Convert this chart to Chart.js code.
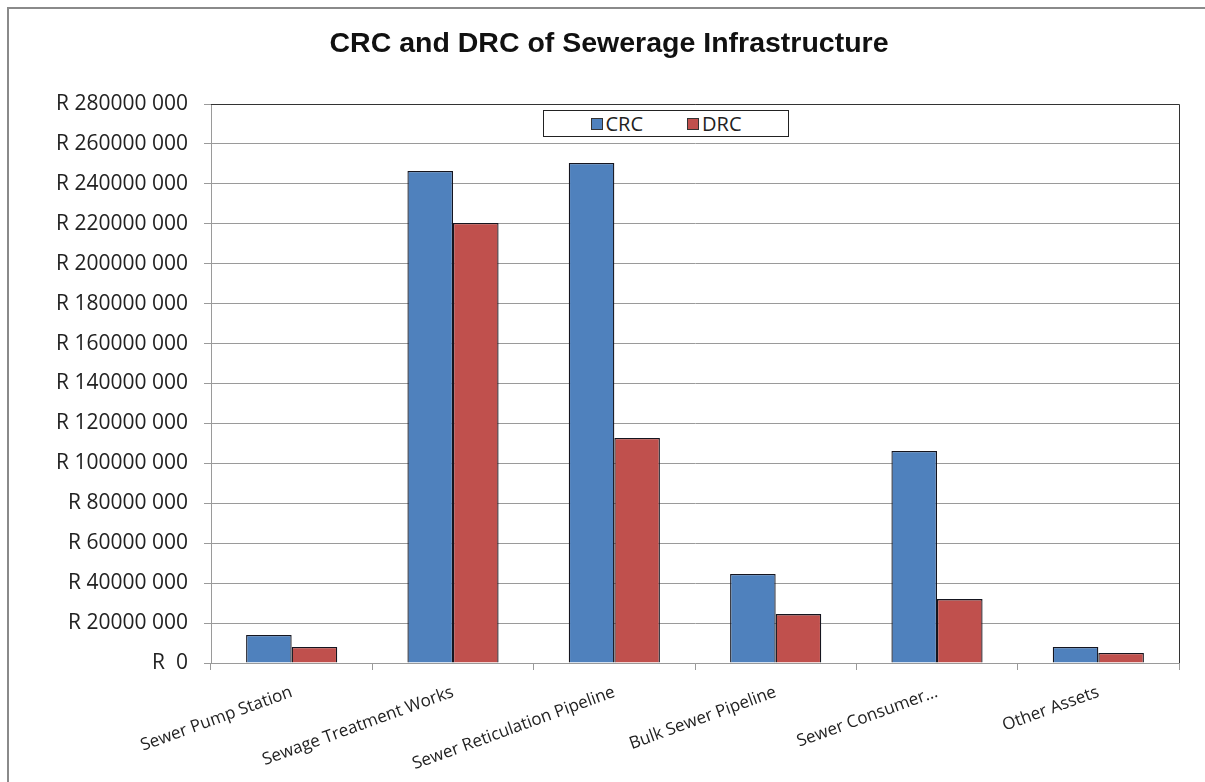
<!DOCTYPE html>
<html>
<head>
<meta charset="utf-8">
<script src="https://cdn.jsdelivr.net/npm/chart.js@4"></script>
<style>
  html, body { margin: 0; padding: 0; background: #fff; overflow: hidden; }
  #wrap { position: relative; width: 1205px; height: 782px; overflow: hidden; }
  #frame { position: absolute; left: 7px; top: 7px; width: 1300px; height: 900px; border: 2px solid #8a8a8a; box-sizing: border-box; }
  canvas { position: absolute; left: 0; top: 0; }
  #legend {
    position: absolute; left: 543px; top: 110px; width: 246px; height: 27px;
    box-sizing: border-box; border: 1px solid #222; background: #fff;
    display: flex; align-items: center; justify-content: center; gap: 44px;
    font-family: "Open Sans", sans-serif; font-size: 20px; color: #222;
  }
  #legend span.item { display: flex; align-items: center; }
  #legend span.sw { width: 10px; height: 10px; border: 1px solid #333; margin-right: 3px; display: inline-block; }
</style>
</head>
<body>
<div id="wrap">
  <div id="frame"></div>
  <canvas id="chart" width="1205" height="782"></canvas>
  <div id="legend"></div>
</div>
<script>
// ===== DATA =====
const categories = [
  'Sewer Pump Station',
  'Sewage Treatment Works',
  'Sewer Reticulation Pipeline',
  'Bulk Sewer Pipeline',
  'Sewer Consumer…',
  'Other Assets',
];
const crcValues = [14000000, 246500000, 250500000, 44600000, 106200000, 8000000];
const drcValues = [8000000, 220400000, 112700000, 24500000, 32000000, 5000000];
const seriesNames = ['CRC', 'DRC'];
const yTicks = { min: 0, max: 280000000, step: 20000000 };

const COLORS = {
  crc: '#4F81BD',
  drc: '#C0504D',
  edge: '#15151f',
  grid: '#9a9a9a',
  text: '#222222',
};

function formatRand(v) {
  if (v === 0) return 'R  0';
  const s = String(Math.round(v));
  return 'R ' + s.slice(0, -3) + ' ' + s.slice(-3);
}

// frame of the plot area: darker top and right edges
const plotBorder = {
  id: 'plotBorder',
  afterDatasetsDraw(chart) {
    const { ctx, chartArea: a } = chart;
    ctx.save();
    ctx.strokeStyle = '#333';
    ctx.lineWidth = 1;
    ctx.beginPath();
    ctx.moveTo(a.left, a.top + 0.5);
    ctx.lineTo(a.right + 0.5, a.top + 0.5);
    ctx.lineTo(a.right + 0.5, a.bottom);
    ctx.stroke();
    ctx.restore();
  },
};

// legend in a box
const legendEl = document.getElementById('legend');
legendEl.innerHTML = seriesNames.map((name, i) =>
  `<span class="item"><span class="sw" style="background:${i === 0 ? COLORS.crc : COLORS.drc}"></span>${name}</span>`
).join('');

new Chart(document.getElementById('chart'), {
  type: 'bar',
  data: {
    labels: categories,
    datasets: [
      {
        label: seriesNames[0],
        data: crcValues,
        backgroundColor: COLORS.crc,
        borderColor: COLORS.edge,
        borderWidth: 1.3,
        borderSkipped: 'bottom',
      },
      {
        label: seriesNames[1],
        data: drcValues,
        backgroundColor: COLORS.drc,
        borderColor: COLORS.edge,
        borderWidth: 1.3,
        borderSkipped: 'bottom',
      },
    ],
  },
  options: {
    responsive: false,
    animation: false,
    layout: { padding: { left: 39, right: 26, top: 0, bottom: 0 } },
    datasets: { bar: { barPercentage: 1, categoryPercentage: 0.565 } },
    scales: {
      x: {
        grid: { display: true, drawOnChartArea: false, color: COLORS.grid, tickLength: 7, offset: true },
        border: { color: COLORS.grid },
        ticks: {
          color: COLORS.text,
          font: { family: 'Open Sans', size: 17 },
          minRotation: 20,
          maxRotation: 20,
          autoSkip: false,
          padding: 12,
        },
        afterFit: (s) => { s.height = 119; },
      },
      y: {
        min: yTicks.min,
        max: yTicks.max,
        grid: { color: COLORS.grid, tickLength: 7 },
        border: { color: COLORS.grid },
        ticks: {
          stepSize: yTicks.step,
          color: COLORS.text,
          font: { family: 'Open Sans', size: 21 },
          padding: 16,
          callback: (v) => formatRand(v),
        },
        afterFit: (s) => { s.width = 172; },
      },
    },
    plugins: {
      legend: { display: false },
      tooltip: { enabled: false },
      title: {
        display: true,
        text: 'CRC and DRC of Sewerage Infrastructure',
        color: '#111',
        font: { family: 'Liberation Sans', size: 28.5, weight: 'bold', lineHeight: 1.2 },
        padding: { top: 27, bottom: 42.8 },
      },
    },
  },
  plugins: [plotBorder],
});
</script>
</body>
</html>
